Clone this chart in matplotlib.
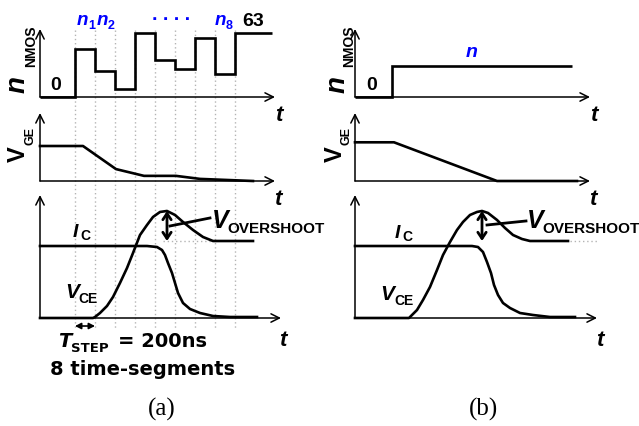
import matplotlib
matplotlib.use("Agg")
import matplotlib.pyplot as plt
from matplotlib.transforms import blended_transform_factory

W, H = 639, 426
SANS = "Liberation Sans"
WIDE = "DejaVu Sans"
SERIF = "Liberation Serif"
BLUE = "#0000ff"
GRID = "#b4b4b4"

# ---------------- data ----------------
# (a) eight 200 ns segments, each with its own number of active NMOS
seg_edges_a = [0, 350, 550, 750, 950, 1150, 1350, 1550, 1750, 1950, 2320]  # ns
n_nmos_a = [0, 47, 26, 8, 63, 36, 28, 58, 23, 63]
# (b) one fixed NMOS count
seg_edges_b = [0, 370, 2170]
n_nmos_b = [0, 31]

# gate-emitter voltage (V)
vge_t_a = [0, 430, 760, 1040, 1360, 1600, 2130]
vge_a = [15, 15, 5.1, 2.2, 2.2, 0.9, 0]
vge_t_b = [0, 390, 1420, 2220]
vge_b = [15, 15, 0, 0]

# collector-emitter voltage, normalised to its settled value
vce_t_a = [0, 530, 550, 600, 670, 730, 800, 870, 930, 1000, 1070, 1130, 1200,
           1270, 1350, 1430, 1530, 1630, 1730, 2130]
vce_a = [0, 0, 0.013, 0.065, 0.156, 0.273, 0.455, 0.649, 0.844, 1.078, 1.208,
         1.312, 1.377, 1.390, 1.338, 1.247, 1.143, 1.052, 1.0, 1.0]
vce_t_b = [0, 540, 560, 620, 680, 750, 820, 880, 950, 1020, 1080, 1150, 1220,
           1270, 1330, 1420, 1500, 1580, 1670, 1750, 2130]
vce_b = [0, 0, 0.026, 0.104, 0.234, 0.403, 0.623, 0.818, 0.987, 1.143, 1.247,
         1.338, 1.377, 1.390, 1.364, 1.273, 1.169, 1.078, 1.026, 1.0, 1.0]

# collector current, same scale
ic_t_a = [0, 1070, 1170, 1220, 1250, 1280, 1320, 1350, 1380, 1430, 1500, 1600,
          1730, 1900, 2170]
ic_a = [0.935, 0.935, 0.922, 0.883, 0.818, 0.714, 0.584, 0.455, 0.325, 0.195,
        0.117, 0.065, 0.026, 0.013, 0.013]
ic_t_b = [0, 1170, 1230, 1280, 1320, 1360, 1390, 1430, 1480, 1550, 1650, 1780,
          1950, 2200]
ic_b = [0.935, 0.935, 0.922, 0.857, 0.727, 0.584, 0.429, 0.299, 0.195, 0.130,
        0.065, 0.039, 0.013, 0.013]

# settled-level reference spans and overshoot leader lines (ns, norm.)
ref_span_a = [1230, 1730]
ref_span_b = [2150, 2420]
leader_t_a, leader_v_a = [1300, 1700], [1.195, 1.299]
leader_t_b, leader_v_b = [1320, 1710], [1.208, 1.260]

# ---------------- figure ----------------
fig = plt.figure(figsize=(W / 100, H / 100), dpi=100)


def overlay(z):
    ax = fig.add_axes([0, 0, 1, 1], zorder=z)
    ax.set_xlim(0, W)
    ax.set_ylim(H, 0)
    ax.axis("off")
    return ax


back = overlay(-5)
LW_AX = 1.1
LW = 1.9
AX_ARROW = dict(arrowstyle="->,head_length=0.6,head_width=0.3", lw=LW_AX,
                color="k", shrinkA=0, shrinkB=0)


def panel(x0, x1, y_org, y_top, xmax, ymax):
    ax = fig.add_axes([x0 / W, 1 - y_org / H, (x1 - x0) / W, (y_org - y_top) / H])
    ax.set_xlim(0, xmax)
    ax.set_ylim(0, ymax)
    ax.axis("off")
    ax.annotate("", xy=(1, 0), xytext=(0, 0), xycoords="axes fraction",
                arrowprops=AX_ARROW, annotation_clip=False)
    ax.annotate("", xy=(0, 1), xytext=(0, 0), xycoords="axes fraction",
                arrowprops=AX_ARROW, annotation_clip=False)
    return ax


top_a = panel(40, 275, 97, 29, 2350, 63 * 68 / 64)
mid_a = panel(40, 275, 181, 113, 2350, 15 * 68 / 35)
bot_a = panel(40, 281, 318, 195, 2410, 123 / 77)
top_b = panel(355, 590, 97, 29, 2350, 63 * 68 / 64)
mid_b = panel(355, 590, 181, 113, 2350, 15 * 68 / 38.7)
bot_b = panel(355, 597, 318, 195, 2420, 123 / 77)

# segment boundaries running through all three plots of (a)
blend = blended_transform_factory(top_a.transData, back.transData)
for t in seg_edges_a[1:-1]:
    back.plot([t, t], [30, 329], transform=blend, color=GRID, lw=1.0,
              ls=(0, (1, 2)))

top_a.stairs(n_nmos_a, seg_edges_a, baseline=None, color="k", lw=LW, clip_on=False)
top_b.stairs(n_nmos_b, seg_edges_b, baseline=None, color="k", lw=LW, clip_on=False)
mid_a.plot(vge_t_a, vge_a, color="k", lw=LW, clip_on=False)
mid_b.plot(vge_t_b, vge_b, color="k", lw=LW, clip_on=False)

for ax, vt, v, it, i, ref, lt, lv in (
        (bot_a, vce_t_a, vce_a, ic_t_a, ic_a, ref_span_a, leader_t_a, leader_v_a),
        (bot_b, vce_t_b, vce_b, ic_t_b, ic_b, ref_span_b, leader_t_b, leader_v_b)):
    ax.plot(ref, [1.0, 1.0], color=GRID, lw=1.0, ls=(0, (1, 2)), clip_on=False)
    ax.plot(it, i, color="k", lw=LW, clip_on=False, solid_joinstyle="round")
    ax.plot(vt, v, color="k", lw=LW, clip_on=False, solid_joinstyle="round")
    k = max(range(len(v)), key=lambda j: v[j])
    ax.annotate("", xy=(vt[k], v[k]), xytext=(vt[k], 1.0),
                arrowprops=dict(arrowstyle="<->,head_length=0.45,head_width=0.3",
                                lw=2.0, color="k", shrinkA=0, shrinkB=0))
    ax.plot(lt, lv, color="k", lw=2.0, clip_on=False)

# T_STEP marker under the first segment
bot_a.annotate("", xy=(seg_edges_a[2], -0.104), xytext=(seg_edges_a[1], -0.104),
               arrowprops=dict(arrowstyle="<|-|>,head_length=0.35,head_width=0.18",
                               lw=1.2, color="k", shrinkA=0, shrinkB=0),
               annotation_clip=False)

# ---------------- labels ----------------
front = overlay(10)


def put(x, y, s, size, family=SANS, style="normal", color="k", ha="left",
        rot=0, weight="bold"):
    front.text(x, y, s, fontsize=size, family=family, fontstyle=style,
               fontweight=weight, color=color, ha=ha, va="baseline",
               rotation=rot, rotation_mode="anchor")


for dx in (0, 320):
    put(25 + dx, 93, "n", 20, style="italic", rot=90)
    put(35 + dx - (2 if dx else 0), 67, "NMOS", 10, rot=90)
    put(25 + dx - (3 if dx else 0), 162, "V", 17, rot=90)
    put(33 + dx - (3 if dx else 0), 145, "GE", 9, rot=90)

put(56, 90, "0", 14, ha="center")
put(372, 90, "0", 14, ha="center")

for x, sub in ((77, "1"), (97, "2"), (215, "8")):
    put(x, 25, "n", 13.5, style="italic", color=BLUE)
    put(x + 11, 29, sub, 9, color=BLUE)
put(152, 20, ". . . .", 14, color=BLUE)
put(242, 26, "63", 14)
put(472, 57, "n", 14, style="italic", color=BLUE, ha="center")

for x in (279, 594):
    put(x, 121, "t", 16, style="italic", ha="center")
    put(x - 1, 205, "t", 16, style="italic", ha="center")
put(283, 346, "t", 16, style="italic", ha="center")
put(600, 346, "t", 16, style="italic", ha="center")

for dx, dy in ((0, 0), (322, 1)):
    put(73 + dx, 237 + dy, "I", 14, style="italic")
    put(80 + dx, 240 + dy, "C", 10)
put(65, 298, "V", 15, style="italic")
put(78, 303, "CE", 10)
put(380, 300, "V", 15, style="italic")
put(394, 305, "CE", 10)
for dx in (0, 315):
    put(212 + dx, 228, "V", 18, style="italic")
    put(227 + dx, 233, "OVERSHOOT", 11)

put(58, 347, "T", 14, family=WIDE, style="italic")
put(71, 352, "STEP", 9.5, family=WIDE)
put(118, 347, "= 200ns", 14, family=WIDE)
put(50, 375, "8 time-segments", 14, family=WIDE)

put(162, 416, "(a)", 18, family=SERIF, weight="normal", ha="center")
put(484, 416, "(b)", 18, family=SERIF, weight="normal", ha="center")

fig.savefig("out.png", dpi=100)
